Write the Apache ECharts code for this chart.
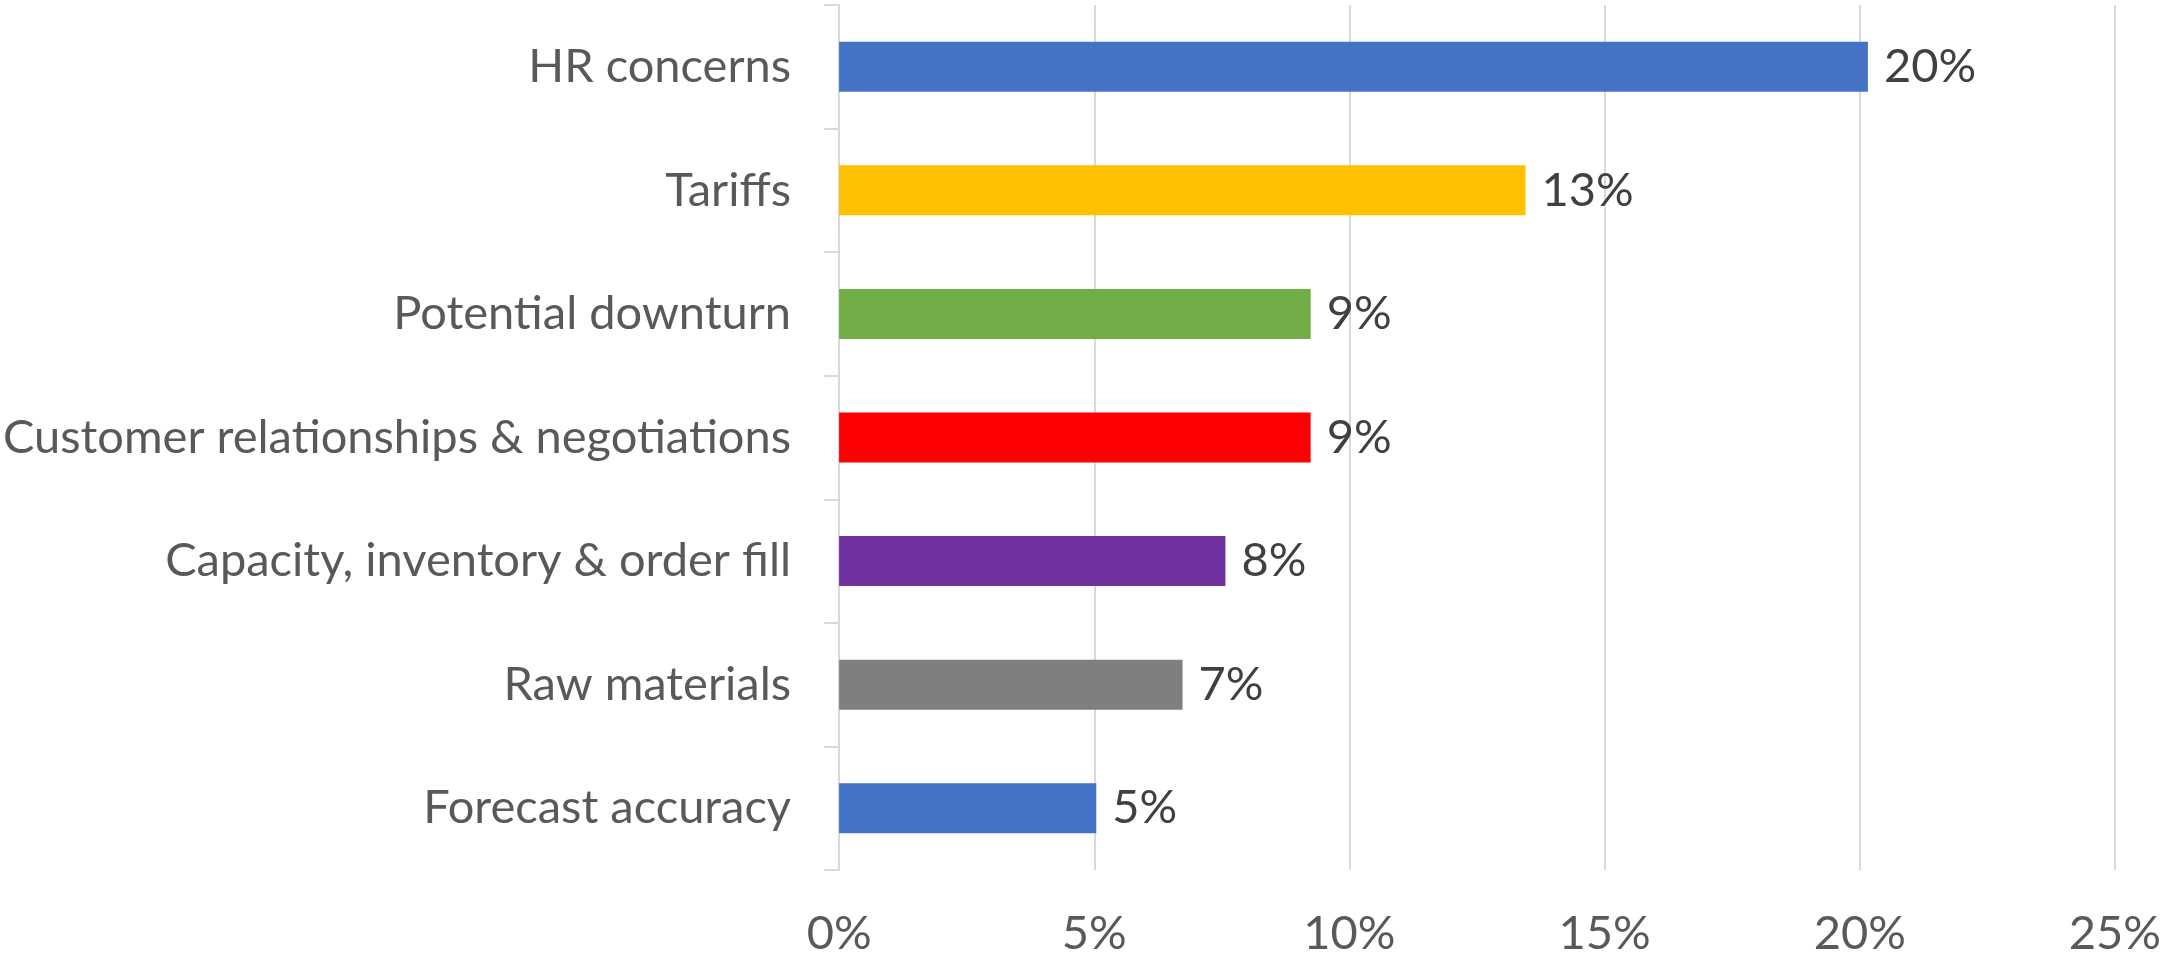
<!DOCTYPE html>
<html>
<head>
<meta charset="utf-8">
<script src="https://cdn.jsdelivr.net/npm/echarts@6/dist/echarts.min.js"></script>
<style>
  html, body { margin: 0; padding: 0; background: #ffffff; }
  #chart { width: 2164px; height: 960px; }
</style>
</head>
<body>
<div id="chart"></div>
<script>
// Categories, top to bottom
const categories = [
  'HR concerns',
  'Tariffs',
  'Potential downturn',
  'Customer relationships & negotiations',
  'Capacity, inventory & order fill',
  'Raw materials',
  'Forecast accuracy'
];
// Share of respondents (fraction)
const shares = [0.2016, 0.1345, 0.0924, 0.0924, 0.0757, 0.0673, 0.0504];
// Bar fill per category
const barColors = ['#4472C4', '#FFC000', '#70AD47', '#FF0000', '#7030A0', '#7F7F7F', '#4472C4'];
// Value axis ticks
const axisMin = 0, axisMax = 0.25, axisStep = 0.05;

const FONT = 'Lato';
const FONT_SIZE = 47;
const pct = v => Math.round(v * 100) + '%';

const chart = echarts.init(document.getElementById('chart'), null, { renderer: 'canvas' });
chart.setOption({
  animation: false,
  backgroundColor: '#ffffff',
  grid: { left: 839, right: 46, top: 5, bottom: 90, containLabel: false },
  xAxis: {
    type: 'value',
    min: axisMin,
    max: axisMax,
    interval: axisStep,
    axisLine: { show: false },
    axisTick: { show: false },
    splitLine: { show: true, lineStyle: { color: '#D9D9D9', width: 2 } },
    axisLabel: {
      formatter: pct,
      color: '#595959',
      fontFamily: FONT,
      fontSize: FONT_SIZE,
      margin: 40
    }
  },
  yAxis: {
    type: 'category',
    inverse: true,
    data: categories,
    axisLine: { show: true, lineStyle: { color: '#D9D9D9', width: 2 } },
    axisTick: { show: true, length: 15, lineStyle: { color: '#D9D9D9', width: 2 } },
    splitLine: { show: false },
    axisLabel: {
      color: '#595959',
      fontFamily: FONT,
      fontSize: FONT_SIZE,
      margin: 48
    }
  },
  series: [{
    type: 'bar',
    data: shares.map((v, i) => ({ value: v, itemStyle: { color: barColors[i] } })),
    barWidth: 50,
    label: {
      show: true,
      position: 'right',
      distance: 16,
      formatter: p => pct(p.value),
      color: '#404040',
      fontFamily: FONT,
      fontSize: FONT_SIZE
    }
  }]
});
</script>
</body>
</html>
